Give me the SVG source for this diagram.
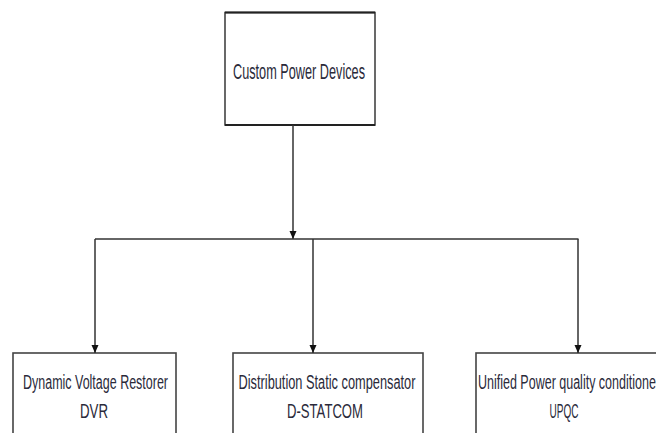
<svg xmlns="http://www.w3.org/2000/svg" width="656" height="433" viewBox="0 0 656 433">
<defs>
<marker id="arr" viewBox="0 0 8 12" refX="8" refY="6" markerWidth="8" markerHeight="12" markerUnits="userSpaceOnUse" orient="auto">
<path d="M0,2.5 L8,6 L0,9.5 Z" fill="#111"/>
</marker>
<style>
.box{fill:#fff;stroke:#444;stroke-width:1.6}
.lbl{font-family:"Liberation Sans Narrow","Liberation Sans",Arial,sans-serif;font-size:20px;fill:#2a2a3a;text-anchor:middle}
.con{fill:none;stroke:#333;stroke-width:1.5}
</style>
</defs>
<rect width="656" height="433" fill="#fff"/>
<g id="root">
<rect class="box" x="225" y="12.5" width="150" height="112.5"/>
<line x1="225" y1="12.5" x2="375" y2="12.5" stroke="#222" stroke-width="2"/>
<line x1="225" y1="125" x2="375" y2="125" stroke="#222" stroke-width="2"/>
<text class="lbl" x="299" y="78.5" textLength="132" lengthAdjust="spacingAndGlyphs" style="font-size:22px">Custom Power Devices</text>
</g>
<g id="dvr">
<rect class="box" x="13" y="353" width="163" height="100"/>
<text class="lbl" x="95.5" y="388.5" textLength="145" lengthAdjust="spacingAndGlyphs">Dynamic Voltage Restorer</text>
<text class="lbl" x="94" y="418" textLength="28" lengthAdjust="spacingAndGlyphs">DVR</text>
</g>
<g id="dstatcom">
<rect class="box" x="233" y="353" width="190" height="100"/>
<text class="lbl" x="327" y="388.5" textLength="177" lengthAdjust="spacingAndGlyphs">Distribution Static compensator</text>
<text class="lbl" x="325" y="418" textLength="76" lengthAdjust="spacingAndGlyphs">D-STATCOM</text>
</g>
<g id="upqc">
<rect class="box" x="476" y="353" width="210" height="100"/>
<text class="lbl" x="569" y="388.5" textLength="182" lengthAdjust="spacingAndGlyphs">Unified Power quality conditioner</text>
<text class="lbl" x="564" y="418" textLength="29" lengthAdjust="spacingAndGlyphs">UPQC</text>
</g>
<g id="connectors">
<line class="con" x1="293" y1="125" x2="293" y2="239" marker-end="url(#arr)"/>
<line class="con" x1="95" y1="239" x2="578.5" y2="239"/>
<line class="con" x1="95" y1="239" x2="95" y2="353" marker-end="url(#arr)"/>
<line class="con" x1="313" y1="239" x2="313" y2="353" marker-end="url(#arr)"/>
<line class="con" x1="578" y1="239" x2="578" y2="353" marker-end="url(#arr)"/>
</g>
</svg>
